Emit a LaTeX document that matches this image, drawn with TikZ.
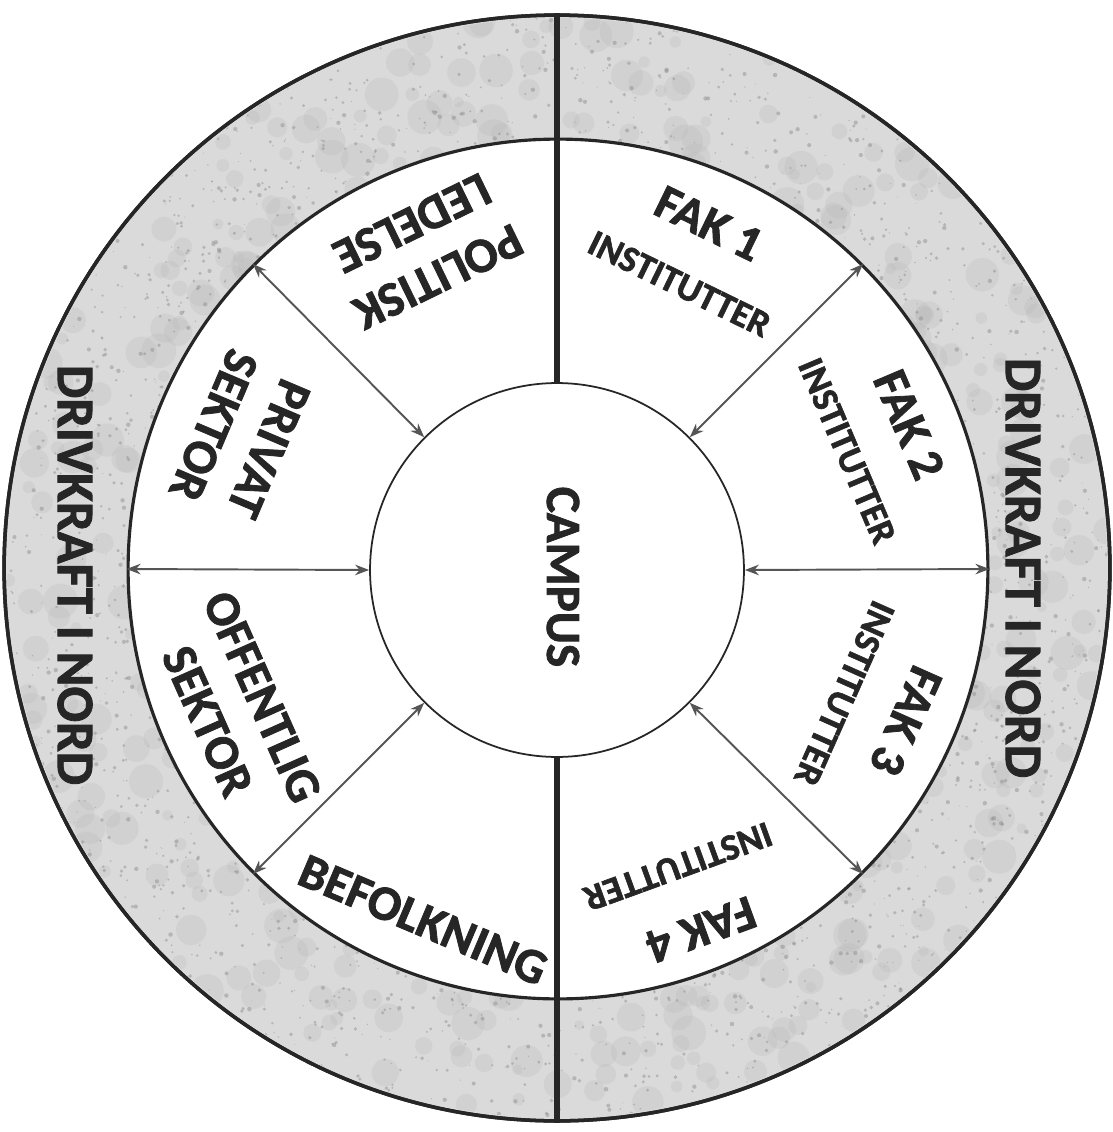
\documentclass[tikz,border=0pt]{standalone}
\usepackage{fontspec}
\setmainfont{Carlito}[BoldFeatures={FakeBold=1.6}]
\usetikzlibrary{arrows.meta}
\definecolor{ink}{HTML}{262626}
\definecolor{ringgray}{HTML}{DADADA}
\definecolor{speck}{HTML}{8A8A8A}
\definecolor{patch}{HTML}{B5B5B5}
\definecolor{arrowgray}{HTML}{555555}
\tikzset{
  circ/.style={circle, inner sep=0pt, draw=ink},
  big/.style={text=ink, font=\bfseries\fontsize{28}{34}\selectfont, align=center, inner sep=0pt},
  side/.style={text=ink, font=\bfseries\fontsize{30}{34}\selectfont, inner sep=0pt},
  link/.style={draw=arrowgray, line width=1.1pt, {Stealth[length=8pt,width=6pt]}-{Stealth[length=8pt,width=6pt]}},
  divider/.style={draw=ink, line width=3pt}
}
\newcommand{\fakblock}[1]{{\fontsize{28}{30}\selectfont #1}\\[2pt]{\fontsize{21}{24}\selectfont INSTITUTTER}}
\begin{document}
\begin{tikzpicture}[x=0.02cm,y=-0.02cm]
\useasboundingbox (0,0) rectangle (1112,1132);
\fill[white] (0,0) rectangle (1112,1132);
% outer ring
\node[circ, fill=ringgray, line width=2pt, minimum size=22.12cm] (outer) at (557,568) {};
% mottled texture of the outer ring
\begin{scope}
  \clip (557,568) circle[radius=11.0cm];
  \pgfmathsetseed{4242}
  \foreach \i in {1,...,350}{
    \pgfmathsetmacro{\ang}{360*rnd}
    \pgfmathsetmacro{\rad}{425+128*rnd}
    \pgfmathsetmacro{\sz}{0.10+0.25*rnd}
    \fill[patch, opacity=0.22] ({557+\rad*cos(\ang)},{568+\rad*sin(\ang)}) circle[radius=\sz cm];
  }
  \foreach \i in {1,...,1600}{
    \pgfmathsetmacro{\ang}{360*rnd}
    \pgfmathsetmacro{\rad}{425+128*rnd}
    \pgfmathsetmacro{\sz}{0.01+0.035*rnd}
    \fill[speck, opacity=0.45] ({557+\rad*cos(\ang)},{568+\rad*sin(\ang)}) circle[radius=\sz cm];
  }
\end{scope}
\draw[ink, line width=2pt] (557,568) circle[radius=11.06cm];
% inner ring and campus
\node[circ, fill=white, line width=1.8pt, minimum size=17.2cm] (ring) at (558,569) {};
\node[circ, fill=white, line width=1pt, minimum size=7.48cm] (campus) at (557,570) {};
% dividers
\draw[divider] (outer.north) -- (campus.north);
\draw[divider] (campus.south) -- (outer.south);
% arrows
\draw[link] (ring.180) -- (campus.180);
\draw[link] (ring.0) -- (campus.0);
\draw[link] (ring.135) -- (campus.135);
\draw[link] (ring.45) -- (campus.45);
\draw[link] (ring.225) -- (campus.225);
\draw[link] (ring.-45) -- (campus.-45);
% labels
\node[big, rotate=-90] (campuslbl) at (563,577) {CAMPUS};
\node[big, rotate=206] (pol) at (425,250) {POLITISK\\LEDELSE};
\node[big, rotate=-26] (fak1) at (695,252) {\fakblock{FAK 1}};
\node[big, rotate=-67] (fak2) at (880,437) {\fakblock{FAK 2}};
\node[big, rotate=-114] (fak3) at (877,708) {\fakblock{FAK 3}};
\node[big, rotate=-160] (fak4) at (690,900) {\fakblock{FAK 4}};
\node[big, rotate=-23] (bef) at (423,920) {BEFOLKNING};
\node[big, rotate=-66] (off) at (235,709) {OFFENTLIG\\SEKTOR};
\node[big, rotate=-113] (priv) at (241,437) {PRIVAT\\SEKTOR};
\node[side, rotate=-90] (drvL) at (75,575) {DRIVKRAFT I NORD};
\node[side, rotate=-90] (drvR) at (1023,568) {DRIVKRAFT I NORD};
\end{tikzpicture}
\end{document}
